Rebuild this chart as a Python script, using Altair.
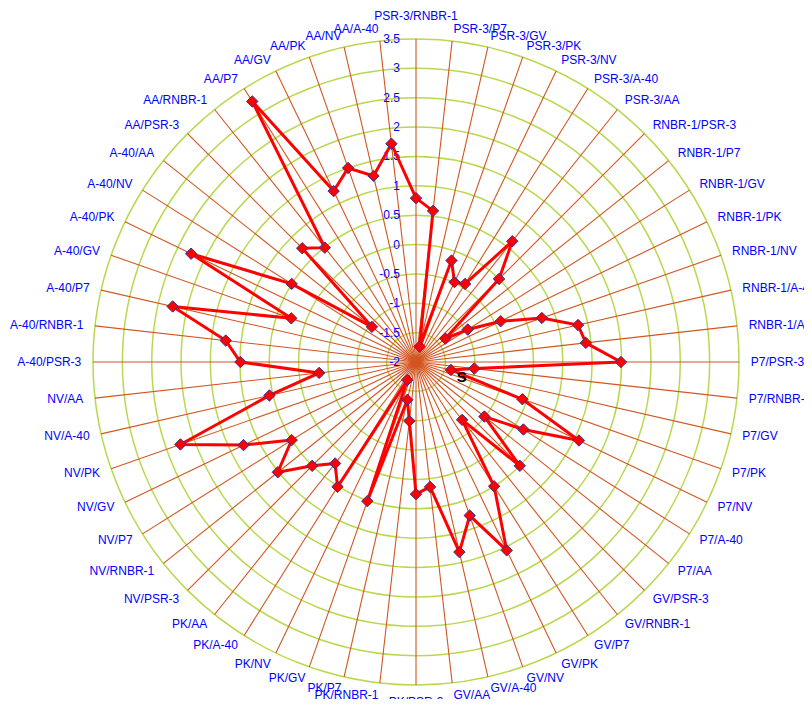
import math
import altair as alt
import pandas as pd

# ---------------- data ----------------
categories = [
    "PSR-3/RNBR-1", "PSR-3/P7", "PSR-3/GV", "PSR-3/PK", "PSR-3/NV", "PSR-3/A-40", "PSR-3/AA",
    "RNBR-1/PSR-3", "RNBR-1/P7", "RNBR-1/GV", "RNBR-1/PK", "RNBR-1/NV", "RNBR-1/A-40", "RNBR-1/AA",
    "P7/PSR-3", "P7/RNBR-1", "P7/GV", "P7/PK", "P7/NV", "P7/A-40", "P7/AA",
    "GV/PSR-3", "GV/RNBR-1", "GV/P7", "GV/PK", "GV/NV", "GV/A-40", "GV/AA",
    "PK/PSR-3", "PK/RNBR-1", "PK/P7", "PK/GV", "PK/NV", "PK/A-40", "PK/AA",
    "NV/PSR-3", "NV/RNBR-1", "NV/P7", "NV/GV", "NV/PK", "NV/A-40", "NV/AA",
    "A-40/PSR-3", "A-40/RNBR-1", "A-40/P7", "A-40/GV", "A-40/PK", "A-40/NV", "A-40/AA",
    "AA/PSR-3", "AA/RNBR-1", "AA/P7", "AA/GV", "AA/PK", "AA/NV", "AA/A-40",
]
values = [
    0.79, 0.59, -1.73, -0.17, -0.49, -0.43, 0.63,
    0.00, -1.36, -0.96, -0.40, 0.27, 0.83, 0.91,
    1.49, -1.00, -1.39, -0.08, 1.08, 0.16, -0.51,
    0.50, -0.74, 0.50, 1.56, 0.77, 1.32, 0.14,
    0.25, -0.99, -1.34, 0.51, -1.66, 0.51, 0.21,
    0.50, 1.01, 0.50, 1.26, 2.25, 0.56, -0.34,
    0.99, 1.26, 2.25, 0.25, 2.25, 0.50, -1.04,
    0.74, 0.49, 3.24, 1.23, 1.50, 1.25, 1.74,
]
tick_values = [-2, -1.5, -1, -0.5, 0, 0.5, 1, 1.5, 2, 2.5, 3, 3.5]
tick_labels = ["-2", "-1.5", "-1", "-0.5", "0", "0.5", "1", "1.5", "2", "2.5", "3", "3.5"]
annot_text = ["S"]
annot_x = [0.78]
annot_y = [-0.25]

# ---------------- styling ----------------
AXIS_MIN = tick_values[0]
SPAN = tick_values[-1] - AXIS_MIN          # 5.5
N = len(categories)
PLOT = 646
LABEL_R = 5.70
BLUE = "#0000ff"
RING = "#bad84e"
SPOKE = "#d2561f"
LINE = "#ff0000"
FONT = "Liberation Sans"

df = pd.DataFrame({"cat": categories, "value": values, "idx": list(range(N))})
line_df = pd.concat([df, df.iloc[[0]].assign(idx=N)], ignore_index=True)
ring_df = pd.DataFrame({"ring": tick_values[1:]})
tick_df = pd.DataFrame({"tick": tick_values, "label": tick_labels})
annot_df = pd.DataFrame({"t": annot_text, "ax": annot_x, "ay": annot_y})

xs = alt.Scale(domain=[-SPAN, SPAN], nice=False, zero=False)
ys = alt.Scale(domain=[-SPAN, SPAN], nice=False, zero=False)


def X(f):
    return alt.X(f, type="quantitative", scale=xs, axis=None)


def Y(f):
    return alt.Y(f, type="quantitative", scale=ys, axis=None)


theta_expr = f"datum.idx * 2 * PI / {N}"

# rings
rings = alt.Chart(ring_df).transform_calculate(
    rr=f"datum.ring - ({AXIS_MIN})"
).mark_arc(filled=False, theta=0, theta2=2 * math.pi, strokeWidth=1.5, color=RING).encode(
    radius=alt.Radius("rr:Q", stack=False,
                      scale=alt.Scale(type="linear", domain=[0, SPAN], range=[0, PLOT / 2]))
)

# spokes
spokes = alt.Chart(df).transform_calculate(
    th=theta_expr
).transform_calculate(
    x0="0", y0="0",
    x1=f"{SPAN} * sin(datum.th)", y1=f"{SPAN} * cos(datum.th)",
).mark_rule(color=SPOKE, strokeWidth=1.1).encode(
    x=X("x0"), y=Y("y0"), x2="x1:Q", y2="y1:Q"
)

# value tick labels along the vertical axis
ticks = alt.Chart(tick_df).transform_calculate(
    tx="0", ty=f"datum.tick - ({AXIS_MIN})"
).mark_text(align="right", baseline="middle", dx=-16, color=BLUE, fontSize=12, font=FONT).encode(
    x=X("tx"), y=Y("ty"), text="label:N"
)

# category labels
lab_base = alt.Chart(df).transform_calculate(
    th=theta_expr
).transform_calculate(
    lx=f"{LABEL_R} * sin(datum.th)", ly=f"{LABEL_R} * cos(datum.th)"
)
half = N // 2
lab_top = lab_base.transform_filter("datum.idx == 0").mark_text(
    align="center", baseline="bottom", dy=-4, color=BLUE, fontSize=12, font=FONT
).encode(x=X("lx"), y=Y("ly"), text="cat:N")
lab_bot = lab_base.transform_filter(f"datum.idx == {half}").mark_text(
    align="center", baseline="top", color=BLUE, fontSize=12, font=FONT
).encode(x=X("lx"), y=Y("ly"), text="cat:N")
lab_right = lab_base.transform_filter(f"datum.idx > 0 && datum.idx < {half}").mark_text(
    align="left", baseline="middle", color=BLUE, fontSize=12, font=FONT
).encode(x=X("lx"), y=Y("ly"), text="cat:N")
lab_left = lab_base.transform_filter(f"datum.idx > {half}").mark_text(
    align="right", baseline="middle", color=BLUE, fontSize=12, font=FONT
).encode(x=X("lx"), y=Y("ly"), text="cat:N")

# data line
line = alt.Chart(line_df).transform_calculate(
    th=theta_expr, rr=f"datum.value - ({AXIS_MIN})"
).transform_calculate(
    px="datum.rr * sin(datum.th)", py="datum.rr * cos(datum.th)"
).mark_line(color=LINE, strokeWidth=3).encode(
    x=X("px"), y=Y("py"), order="idx:Q"
)

points = alt.Chart(df).transform_calculate(
    th=theta_expr, rr=f"datum.value - ({AXIS_MIN})"
).transform_calculate(
    px="datum.rr * sin(datum.th)", py="datum.rr * cos(datum.th)"
).mark_point(shape="diamond", filled=True, size=130, fill=LINE, stroke="#3b2f88",
             strokeWidth=1, opacity=1).encode(
    x=X("px"), y=Y("py")
)

annot = alt.Chart(annot_df).mark_text(
    align="center", baseline="middle", fontSize=15, fontWeight="bold", color="black", font=FONT
).encode(x=X("ax"), y=Y("ay"), text="t:N")

chart = alt.layer(
    rings, spokes, ticks, lab_top, lab_bot, lab_right, lab_left, line, points, annot
).properties(
    width=PLOT, height=PLOT,
    padding={"left": 85, "top": 31, "right": 65, "bottom": 14},
    autosize=alt.AutoSizeParams(type="none"),
    background="white",
).configure_view(strokeWidth=0)

chart.save("out.html", embed_options={"renderer": "svg", "actions": False})
